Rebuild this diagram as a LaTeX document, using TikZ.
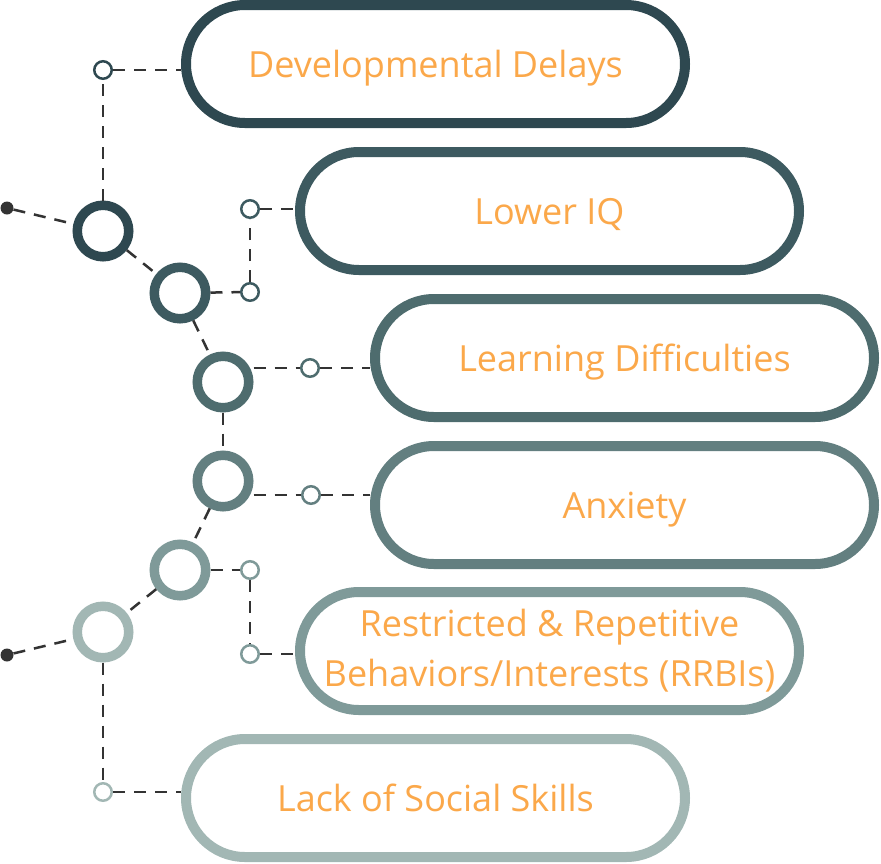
\documentclass[tikz,border=0pt]{standalone}
\usepackage{fontspec}
\setmainfont{Open Sans}
\usepackage{xcolor}
\usepackage{tikz}

\definecolor{shadeA}{HTML}{2E4850}
\definecolor{shadeB}{HTML}{3D5A60}
\definecolor{shadeC}{HTML}{4E6C6E}
\definecolor{shadeD}{HTML}{637F80}
\definecolor{shadeE}{HTML}{7F9A99}
\definecolor{shadeF}{HTML}{A2B7B4}
\definecolor{labelorange}{HTML}{FBA84A}
\definecolor{linkgray}{HTML}{333333}

\tikzset{
  pill/.style={draw=#1, line width=10pt, rounded corners=59pt, minimum width=499pt, minimum height=118pt, text=labelorange, font=\fontsize{36}{50}\selectfont, align=center, fill=white},
  oneline/.style={text height=26pt, text depth=0pt},
  ring/.style={shape=circle, draw=#1, line width=9.5pt, minimum size=51.5pt, inner sep=0pt, fill=white},
  knot/.style={shape=circle, draw=#1, line width=2.5pt, minimum size=17.5pt, inner sep=0pt, fill=white},
  tip/.style={shape=circle, fill=linkgray, minimum size=13pt, inner sep=0pt},
  link/.style={draw=linkgray, line width=2.5pt, dash pattern=on 12pt off 9pt},
}

\begin{document}
\begin{tikzpicture}[x=1pt,y=-1pt]
\useasboundingbox (0,0) rectangle (881,863);
\node[pill=shadeA,oneline] (P1) at (435.5,64) {Developmental Delays};
\node[pill=shadeB,oneline] (P2) at (549.5,211) {Lower IQ};
\node[pill=shadeC,oneline] (P3) at (624.5,358) {Learning Difficulties};
\node[pill=shadeD,oneline] (P4) at (624.5,505) {Anxiety};
\node[pill=shadeE] (P5) at (549.5,651) {Restricted \& Repetitive\\Behaviors/Interests (RRBIs)};
\node[pill=shadeF,oneline] (P6) at (435.5,798) {Lack of Social Skills};
\node[ring=shadeA] (C1) at (103,231) {};
\node[ring=shadeB] (C2) at (180,293) {};
\node[ring=shadeC] (C3) at (223,382) {};
\node[ring=shadeD] (C4) at (223,481) {};
\node[ring=shadeE] (C5) at (180,570) {};
\node[ring=shadeF] (C6) at (103,632) {};
\node[knot=shadeA] (K1) at (103,70) {};
\node[knot=shadeB] (K2) at (250,209) {};
\node[knot=shadeB] (K3) at (250,292) {};
\node[knot=shadeC] (K4) at (310,368) {};
\node[knot=shadeD] (K5) at (311,495) {};
\node[knot=shadeE] (K6) at (250,570) {};
\node[knot=shadeE] (K7) at (250,654) {};
\node[knot=shadeF] (K8) at (103,792) {};
\node[tip] (T1) at (7,208) {};
\node[tip] (T2) at (7,655) {};
\path[link] (T1) -- (C1);
\path[link] (C1) -- (K1);
\path[link] (K1) -- (K1 -| P1.west);
\path[link] (C1) -- (C2);
\path[link] (C2) -- (K3);
\path[link] (K3) -- (K2);
\path[link] (K2) -- (K2 -| P2.west);
\path[link] (C2) -- (C3);
\path[link] (C3.east |- K4) -- (K4);
\path[link] (K4) -- (K4 -| P3.west);
\path[link] (C3) -- (C4);
\path[link] (C4.east |- K5) -- (K5);
\path[link] (K5) -- (K5 -| P4.west);
\path[link] (C4) -- (C5);
\path[link] (C5) -- (K6);
\path[link] (K6) -- (K7);
\path[link] (K7) -- (K7 -| P5.west);
\path[link] (C5) -- (C6);
\path[link] (T2) -- (C6);
\path[link] (C6) -- (K8);
\path[link] (K8) -- (K8 -| P6.west);
\end{tikzpicture}
\end{document}
